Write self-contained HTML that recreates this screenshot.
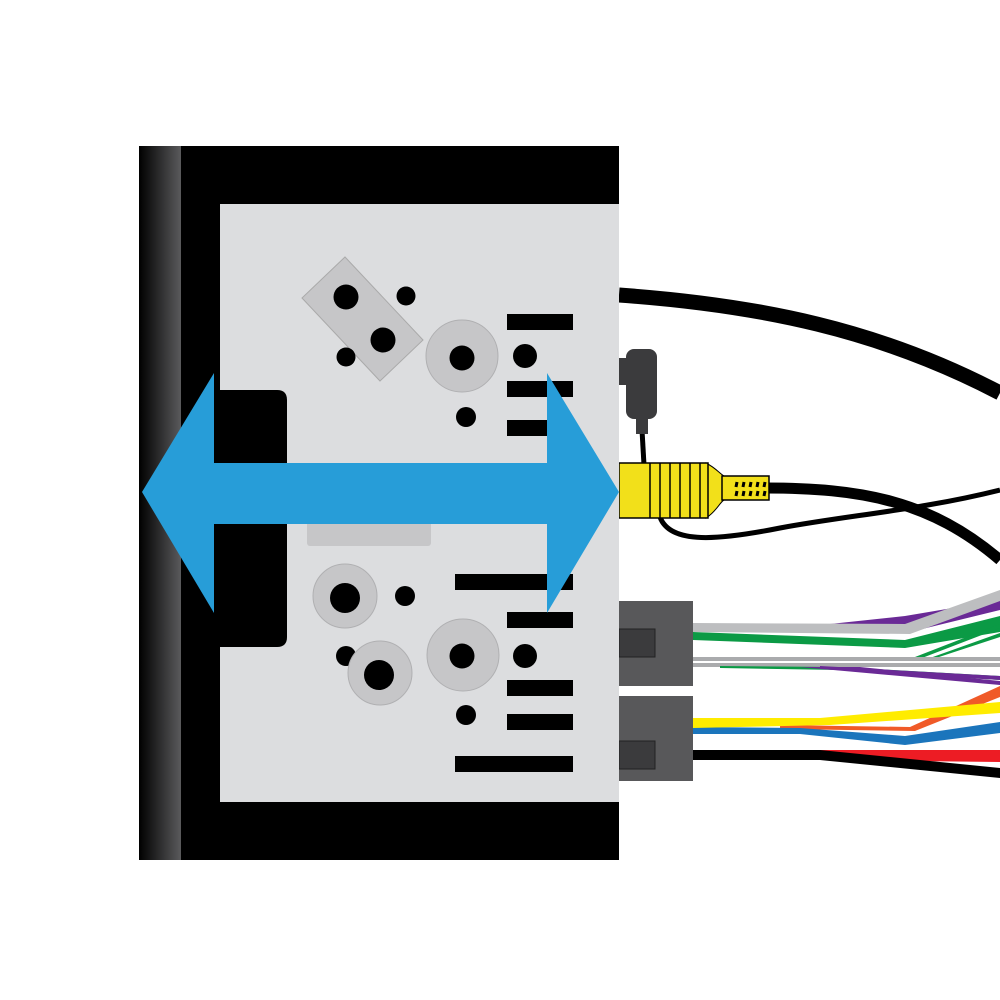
<!DOCTYPE html>
<html><head><meta charset="utf-8"><style>html,body{margin:0;padding:0;background:#fff}svg{display:block}</style></head>
<body>
<svg width="1000" height="1000" viewBox="0 0 1000 1000" xmlns="http://www.w3.org/2000/svg">
<defs>
<linearGradient id="lg" x1="0" x2="1" y1="0" y2="0">
<stop offset="0" stop-color="#000"/><stop offset="1" stop-color="#5a5a5c"/>
</linearGradient>
</defs>
<rect width="1000" height="1000" fill="#fff"/>
<!-- cables -->
<path d="M619,295 C760,305 880,330 1000,393" stroke="#000" stroke-width="15" fill="none"/>
<path d="M660,517 C670,545 720,540 780,528 C850,515 920,510 1000,490" stroke="#000" stroke-width="5" fill="none"/>
<path d="M765,488 C860,488 930,500 1000,560" stroke="#000" stroke-width="11" fill="none"/>
<path d="M642,430 L644,465" stroke="#000" stroke-width="5" fill="none"/>
<!-- wires upper -->
<polygon points="830,624 905,616 1000,600 1000,610 910,632 830,626" fill="#6a2a96"/>
<polygon points="693,632 905,640 1000,616 1000,632 905,648 693,640" fill="#0b9a45"/>
<polygon points="693,623 905,624 1000,590 1000,601 910,634 693,632" fill="#bdbec0"/>
<polygon points="915,657 1000,624 1000,628 922,658" fill="#0b9a45"/>
<polygon points="930,658 1000,633 1000,637 936,658" fill="#0b9a45"/>
<rect x="693" y="657" width="307" height="4" fill="#aaabad"/>
<rect x="693" y="663" width="307" height="4" fill="#aaabad"/>
<polygon points="720,666 840,667 1000,676 1000,680 840,670 720,668" fill="#0b9a45"/>
<polygon points="800,667 860,667 1000,681 1000,685" fill="#6a2a96"/>
<polygon points="820,666 1000,676 1000,680 820,669" fill="#6a2a96"/>
<!-- wires lower -->
<polygon points="780,725 910,727 1000,686 1000,697 915,731 780,729" fill="#f05a28"/>
<polygon points="693,727 800,728 905,736 1000,722 1000,733 905,745 800,734 693,734" fill="#1b75bc"/>
<polygon points="693,718 820,718 1000,702 1000,713 830,725 693,728" fill="#ffec00"/>
<polygon points="820,750 1000,750 1000,762 820,760" fill="#ed1c24"/>
<polygon points="693,750 820,750 1000,768 1000,778 820,760 693,760" fill="#000"/>
<!-- connectors -->
<rect x="619" y="601" width="74" height="85" fill="#58585a"/>
<rect x="619" y="629" width="36" height="28" fill="#3b3b3d" stroke="#222" stroke-width="1"/>
<rect x="619" y="696" width="74" height="85" fill="#58585a"/>
<rect x="619" y="741" width="36" height="28" fill="#3b3b3d" stroke="#222" stroke-width="1"/>
<!-- plug -->
<rect x="636" y="412" width="12" height="22" fill="#3b3b3d"/>
<rect x="626" y="349" width="31" height="70" rx="8" fill="#3b3b3d"/>
<rect x="619" y="358" width="12" height="27" fill="#3b3b3d"/>
<!-- RCA -->
<path d="M706,463 C716,468 720,474 724,476 L724,500 C720,502 716,512 706,518 Z" fill="#f2e01a" stroke="#000" stroke-width="1"/>
<rect x="722" y="476" width="47" height="24" fill="#f2e01a" stroke="#000" stroke-width="1.5"/>
<g stroke="#000" stroke-width="3">
<line x1="737" y1="482" x2="736" y2="487"/><line x1="744" y1="482" x2="743" y2="487"/><line x1="751" y1="482" x2="750" y2="487"/><line x1="758" y1="482" x2="757" y2="487"/><line x1="765" y1="482" x2="764" y2="487"/>
<line x1="737" y1="491" x2="736" y2="496"/><line x1="744" y1="491" x2="743" y2="496"/><line x1="751" y1="491" x2="750" y2="496"/><line x1="758" y1="491" x2="757" y2="496"/><line x1="765" y1="491" x2="764" y2="496"/>
</g>
<rect x="619" y="463" width="89" height="55" fill="#f2e01a" stroke="#000" stroke-width="1.5"/>
<g stroke="#000" stroke-width="1.5">
<line x1="650" y1="463" x2="650" y2="518"/><line x1="660" y1="463" x2="660" y2="518"/><line x1="670" y1="463" x2="670" y2="518"/><line x1="680" y1="463" x2="680" y2="518"/><line x1="690" y1="463" x2="690" y2="518"/><line x1="700" y1="463" x2="700" y2="518"/>
</g>
<!-- head unit -->
<rect x="139" y="146" width="480" height="714" fill="#000"/>
<rect x="139" y="146" width="42" height="714" fill="url(#lg)"/>
<rect x="220" y="204" width="399" height="598" fill="#dcdddf"/>
<path d="M214,390 H277 Q287,390 287,400 V637 Q287,647 277,647 H214 Z" fill="#000"/>
<rect x="307" y="518" width="124" height="28" rx="3" fill="#c6c6c8"/>
<!-- top components -->
<polygon points="345,257 423,340 380,381 302,298" fill="#c6c6c8" stroke="#aaa" stroke-width="1"/>
<circle cx="346" cy="297" r="12.5" fill="#000"/><circle cx="383" cy="340" r="12.5" fill="#000"/>
<circle cx="406" cy="296" r="9.5" fill="#000"/><circle cx="346" cy="357" r="9.5" fill="#000"/>
<circle cx="462" cy="356" r="36" fill="#c6c6c8" stroke="#b0b0b2" stroke-width="1"/><circle cx="462" cy="358" r="12.5" fill="#000"/>
<circle cx="525" cy="356" r="12" fill="#000"/><circle cx="466" cy="417" r="10" fill="#000"/>
<rect x="507" y="314" width="66" height="16" fill="#000"/>
<rect x="507" y="381" width="66" height="16" fill="#000"/>
<rect x="507" y="420" width="66" height="16" fill="#000"/>
<!-- bottom components -->
<circle cx="345" cy="596" r="32" fill="#c6c6c8" stroke="#b0b0b2" stroke-width="1"/><circle cx="345" cy="598" r="15" fill="#000"/>
<circle cx="405" cy="596" r="10" fill="#000"/>
<circle cx="346" cy="656" r="10" fill="#000"/>
<circle cx="380" cy="673" r="32" fill="#c6c6c8" stroke="#b0b0b2" stroke-width="1"/><circle cx="379" cy="675" r="15" fill="#000"/>
<circle cx="463" cy="655" r="36" fill="#c6c6c8" stroke="#b0b0b2" stroke-width="1"/><circle cx="462" cy="656" r="12.5" fill="#000"/>
<circle cx="525" cy="656" r="12" fill="#000"/><circle cx="466" cy="715" r="10" fill="#000"/>
<rect x="455" y="574" width="118" height="16" fill="#000"/>
<rect x="507" y="612" width="66" height="16" fill="#000"/>
<rect x="507" y="680" width="66" height="16" fill="#000"/>
<rect x="507" y="714" width="66" height="16" fill="#000"/>
<rect x="455" y="756" width="118" height="16" fill="#000"/>
<!-- arrow -->
<polygon points="142,492 214,373 214,463 547,463 547,373 619,492 547,613 547,524 214,524 214,613" fill="#279dd8"/>
</svg>
</body></html>
